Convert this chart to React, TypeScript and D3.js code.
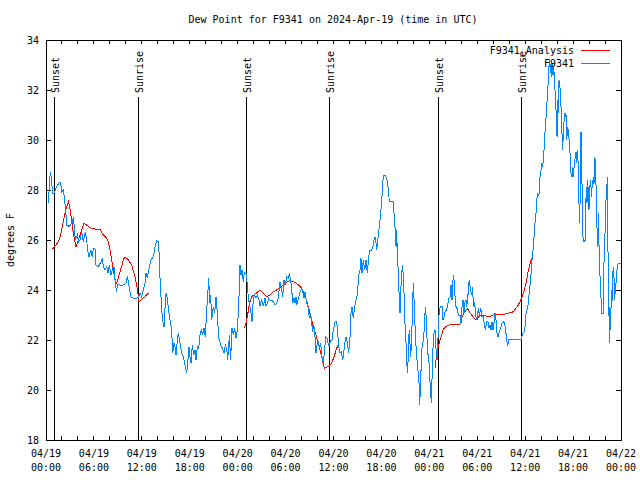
import React from "react";
import * as d3 from "d3";

const START = Date.UTC(2024, 3, 19, 0, 0, 0);
const END = Date.UTC(2024, 3, 22, 0, 0, 0);

const TITLE = "Dew Point for F9341 on 2024-Apr-19 (time in UTC)";
const Y_LABEL = "degrees F";
const SERIES_NAMES = ["F9341_Analysis", "F9341"];
const Y_TICKS = [18, 20, 22, 24, 26, 28, 30, 32, 34];

const EVENT_HOURS = [1.03, 11.57, 25.05, 35.48, 49.12, 59.52];
const EVENT_LABELS = ["Sunset", "Sunrise", "Sunset", "Sunrise", "Sunset", "Sunrise"];

// Observed dew point (hours since 2024-04-19 00:00 UTC)
const OBS_HOURS = [
  0.29, 0.54, 0.67, 0.83, 1.0, 1.17, 1.33, 1.63, 1.84, 1.96, 2.17, 2.3, 2.46, 2.59, 2.75, 2.88, 3.09, 3.3, 3.42, 3.55,
  3.67, 3.92, 4.09, 4.26, 4.47, 4.67, 4.92, 5.09, 5.22, 5.38, 5.59, 5.8, 5.93, 6.13, 6.26, 6.55, 6.89, 7.05, 7.18, 7.39,
  7.6, 7.76, 7.93, 8.14, 8.35, 8.51, 8.68, 8.85, 8.93, 9.27, 9.68, 10.02, 10.19, 10.35, 10.6, 10.94, 11.35, 11.56, 11.77, 11.98,
  12.19, 12.4, 12.52, 12.69, 12.94, 13.15, 13.44, 13.65, 13.86, 14.07, 14.19, 14.27, 14.48, 14.61, 14.78, 14.9, 15.03, 15.19, 15.32, 15.53,
  15.74, 15.86, 16.03, 16.15, 16.28, 16.45, 16.57, 16.78, 16.99, 17.2, 17.41, 17.62, 17.74, 17.91, 18.03, 18.16, 18.32, 18.49, 18.66, 18.78,
  18.95, 19.12, 19.28, 19.45, 19.62, 19.78, 19.95, 20.12, 20.29, 20.37, 20.5, 20.62, 20.74, 20.95, 21.12, 21.29, 21.46, 21.62, 21.79, 21.95,
  22.12, 22.29, 22.46, 22.62, 22.75, 22.87, 22.96, 23.12, 23.29, 23.46, 23.62, 23.79, 23.96, 24.12, 24.21, 24.29, 24.42, 24.54, 24.71, 24.83,
  25.04, 25.17, 25.25, 25.38, 25.54, 25.67, 25.79, 25.88, 26.0, 26.13, 26.29, 26.46, 26.63, 26.79, 27.0, 27.22, 27.42, 27.55, 27.72, 27.88,
  28.05, 28.26, 28.47, 28.68, 28.88, 29.09, 29.3, 29.51, 29.64, 29.8, 29.97, 30.14, 30.34, 30.47, 30.64, 30.76, 30.89, 31.06, 31.18, 31.31,
  31.39, 31.6, 31.81, 32.02, 32.14, 32.31, 32.43, 32.64, 32.81, 32.98, 33.14, 33.27, 33.39, 33.56, 33.68, 33.81, 33.98, 34.14, 34.23, 34.39,
  34.56, 34.73, 34.89, 35.02, 35.19, 35.35, 35.48, 35.65, 35.81, 35.98, 36.19, 36.4, 36.52, 36.65, 36.82, 36.98, 37.15, 37.32, 37.44, 37.57,
  37.73, 37.9, 38.07, 38.19, 38.32, 38.48, 38.65, 38.82, 38.99, 39.15, 39.32, 39.44, 39.57, 39.74, 39.91, 40.07, 40.24, 40.41, 40.57, 40.74,
  40.91, 41.07, 41.24, 41.41, 41.57, 41.74, 41.91, 42.03, 42.16, 42.24, 42.49, 42.66, 42.83, 43.0, 43.24, 43.49, 43.58, 43.7, 43.83, 43.91,
  43.99, 44.12, 44.24, 44.33, 44.45, 44.54, 44.66, 44.87, 44.95, 45.08, 45.17, 45.29, 45.41, 45.49, 45.66, 45.79, 45.91, 46.0, 46.12, 46.25,
  46.41, 46.54, 46.71, 46.79, 46.92, 47.04, 47.17, 47.29, 47.42, 47.54, 47.67, 47.79, 47.92, 48.05, 48.17, 48.25, 48.38, 48.5, 48.63, 48.75,
  48.84, 49.0, 49.13, 49.25, 49.42, 49.59, 49.71, 49.84, 49.96, 50.13, 50.26, 50.42, 50.59, 50.71, 50.84, 50.92, 51.05, 51.17, 51.3, 51.42,
  51.55, 51.67, 51.84, 51.96, 52.09, 52.22, 52.34, 52.46, 52.59, 52.67, 52.8, 52.93, 53.01, 53.18, 53.3, 53.43, 53.51, 53.64, 53.76, 53.89,
  54.01, 54.14, 54.26, 54.43, 54.6, 54.76, 54.89, 55.01, 55.18, 55.35, 55.47, 55.6, 55.72, 55.85, 55.97, 56.1, 56.22, 56.35, 56.51, 56.64,
  56.76, 56.93, 57.1, 57.26, 57.43, 57.56, 57.68, 57.81, 57.93, 58.52, 59.52, 59.69, 59.86, 59.98, 60.11, 60.28, 60.4, 60.53, 60.69, 60.81,
  60.94, 61.02, 61.11, 61.23, 61.36, 61.44, 61.52, 61.65, 61.77, 61.86, 61.98, 62.07, 62.19, 62.28, 62.36, 62.44, 62.57, 62.69, 62.82, 62.9,
  62.98, 63.07, 63.15, 63.24, 63.32, 63.41, 63.49, 63.57, 63.7, 63.82, 63.91, 63.99, 64.07, 64.16, 64.24, 64.32, 64.41, 64.49, 64.61, 64.69,
  64.82, 64.94, 65.03, 65.11, 65.2, 65.32, 65.45, 65.57, 65.66, 65.74, 65.87, 65.95, 66.03, 66.16, 66.28, 66.37, 66.45, 66.53, 66.66, 66.74,
  66.83, 66.91, 66.99, 67.08, 67.16, 67.24, 67.33, 67.49, 67.58, 67.66, 67.74, 67.83, 67.91, 67.99, 68.08, 68.16, 68.24, 68.33, 68.41, 68.49,
  68.58, 68.66, 68.74, 68.83, 68.91, 68.99, 69.08, 69.16, 69.24, 69.33, 69.41, 69.49, 69.58, 69.79, 69.87, 69.95, 70.04, 70.12, 70.2, 70.29,
  70.37, 70.45, 70.54, 70.62, 70.7, 70.79, 70.87, 70.95, 71.04, 71.12, 71.2, 71.29, 71.37, 71.45, 71.54, 71.66, 71.79, 71.95,
];
const OBS_VALUES = [
  27.47, 28.73, 28.47, 27.87, 27.87, 28.0, 28.13, 28.29, 28.29, 27.93, 28.0, 27.67, 27.2, 26.6, 26.6, 26.53, 26.6, 26.73, 26.9, 26.53,
  26.0, 26.2, 25.93, 26.0, 26.33, 25.93, 26.33, 26.0, 25.6, 25.33, 25.6, 25.33, 25.67, 25.67, 25.0, 24.93, 25.13, 25.27, 24.93, 24.8,
  24.93, 24.67, 25.0, 24.6, 24.87, 24.93, 24.27, 23.93, 24.24, 24.2, 24.2, 24.27, 24.56, 24.27, 23.73, 23.67, 23.67, 23.71, 23.87, 23.73,
  24.0, 24.27, 24.67, 24.47, 24.93, 25.2, 25.33, 25.73, 25.96, 25.93, 25.33, 24.53, 23.27, 22.8, 22.53, 23.27, 23.87, 23.67, 23.27, 22.8,
  22.4, 21.47, 21.87, 21.73, 21.4, 22.0, 22.27, 21.87, 21.47, 21.33, 21.0, 20.67, 21.07, 21.73, 21.33, 21.07, 21.8, 21.4, 21.6, 21.2,
  21.73, 21.67, 22.2, 22.4, 22.2, 22.47, 22.13, 23.2, 24.0, 24.47, 23.47, 23.8, 22.8, 23.33, 23.07, 23.73, 23.07, 22.07, 21.93, 21.73,
  21.67, 21.47, 21.8, 21.67, 21.2, 21.73, 22.2, 21.2, 22.47, 22.2, 22.47, 22.07, 22.4, 23.33, 24.13, 25.0, 24.6, 24.8, 24.33, 24.69,
  24.67, 24.33, 24.0, 23.6, 23.33, 23.07, 22.73, 23.33, 23.67, 23.8, 23.67, 23.8, 23.67, 23.36, 23.6, 23.36, 23.67, 23.36, 23.47, 23.67,
  23.6, 23.6, 23.53, 23.4, 23.47, 23.67, 24.33, 24.0, 23.73, 24.4, 24.2, 24.53, 24.47, 24.67, 24.4, 24.07, 23.47, 23.67, 23.47, 23.73,
  23.4, 23.67, 23.93, 24.07, 23.93, 23.67, 23.93, 23.47, 23.33, 22.87, 23.07, 22.67, 22.4, 22.53, 22.13, 21.47, 21.93, 21.93, 21.67, 21.87,
  21.33, 21.07, 21.6, 22.13, 22.07, 21.8, 21.8, 22.0, 22.0, 22.4, 22.73, 22.73, 22.33, 21.73, 21.47, 21.53, 21.2, 21.6, 21.93, 22.13,
  21.93, 21.47, 22.13, 23.07, 23.33, 22.87, 23.33, 23.6, 23.8, 24.6, 24.8, 25.27, 24.67, 25.2, 24.8, 25.2, 24.67, 25.33, 25.6, 25.6,
  25.67, 26.0, 26.13, 25.6, 26.07, 26.53, 27.07, 27.53, 28.2, 28.6, 28.6, 28.47, 28.13, 27.53, 27.53, 27.53, 27.07, 26.53, 25.73, 26.4,
  25.47, 24.67, 23.6, 23.07, 24.13, 24.67, 25.0, 23.6, 22.67, 21.87, 21.07, 20.67, 22.0, 22.4, 21.33, 22.0, 23.6, 24.27, 23.33, 22.27,
  21.33, 20.93, 20.27, 19.4, 20.4, 21.6, 21.87, 22.0, 22.93, 23.33, 22.4, 21.47, 21.33, 20.53, 19.87, 19.47, 20.93, 22.0, 22.4, 22.4,
  21.6, 21.2, 22.53, 23.2, 23.33, 23.33, 22.8, 22.93, 23.13, 23.2, 23.33, 23.67, 23.73, 24.2, 23.6, 24.27, 24.6, 24.0, 23.33, 23.33,
  23.13, 23.0, 23.0, 22.67, 23.33, 23.6, 23.07, 23.53, 23.6, 23.33, 23.6, 24.27, 24.33, 24.0, 23.8, 24.13, 23.33, 23.53, 23.2, 22.8,
  22.93, 23.27, 23.0, 23.27, 22.93, 22.93, 22.6, 22.4, 22.73, 22.73, 22.47, 22.6, 22.4, 22.73, 22.4, 22.67, 23.07, 22.8, 22.13, 22.13,
  22.33, 22.47, 22.67, 22.73, 22.67, 22.4, 22.0, 21.76, 22.03, 22.03, 22.03, 22.27, 22.33, 22.53, 23.07, 23.27, 23.47, 24.0, 24.4, 25.07,
  25.47, 25.73, 26.13, 26.67, 27.07, 27.47, 27.87, 27.8, 27.87, 28.53, 28.8, 29.07, 28.93, 29.2, 29.6, 30.13, 30.67, 31.33, 31.87, 32.53,
  32.93, 33.2, 32.67, 33.07, 32.53, 33.07, 32.6, 32.93, 32.27, 31.47, 30.93, 30.13, 31.6, 31.07, 32.4, 32.27, 31.87, 31.33, 30.27, 29.6,
  30.53, 31.07, 30.93, 31.07, 30.0, 30.53, 30.27, 29.6, 29.33, 28.67, 28.53, 28.93, 28.53, 29.07, 29.33, 29.53, 29.07, 29.6, 28.93, 27.47,
  26.67, 28.27, 30.33, 29.33, 27.07, 26.13, 25.93, 25.93, 27.2, 28.13, 27.47, 28.4, 27.87, 27.2, 28.0, 28.4, 28.13, 27.73, 28.4, 28.2,
  28.53, 28.27, 29.33, 28.27, 28.13, 26.53, 25.73, 27.07, 25.87, 24.93, 24.27, 23.73, 23.07, 23.07, 25.07, 25.87, 26.67, 27.6, 27.87, 28.53,
  25.6, 24.27, 21.87, 23.33, 22.4, 24.0, 23.47, 24.53, 24.93, 24.53, 23.6, 24.0, 24.27, 24.53, 25.0, 25.07, 25.07, 25.07,
];

// Analysis (null marks a gap between nightly runs)
const ANA_HOURS = [
  0.79, 1.13, 1.54, 1.84, 2.09, 2.38, 2.59, 2.8, 3.0, 3.21, 3.42, 3.63, 3.76, 3.97, 4.26, 4.55, 4.76, 5.09, 5.51, 6.13,
  6.76, 7.18, 7.6, 7.81, 8.01, 8.22, 8.43, 8.64, 8.85, 9.27, 9.68, 9.89, 10.31, 10.73, 11.14, 11.43, 11.64, 11.98, 12.4, 12.81,
  18.0,
  24.83, 25.04, 25.21, 25.38, 25.54, 25.75, 26.04, 26.38, 26.79, 27.22, 27.63, 28.05, 28.47, 28.88, 29.3, 29.7, 30.1, 30.5, 30.76, 31.18,
  31.6, 32.02, 32.43, 32.85, 33.26, 33.68, 34.1, 34.52, 34.85, 35.14, 35.48, 35.77, 36.06, 36.4, 36.65,
  42.0,
  48.71, 48.92, 49.13, 49.34, 49.55, 49.75, 49.96, 50.38, 50.8, 51.42, 51.84, 52.05, 52.26, 52.51, 52.76, 53.01, 53.3, 53.6, 53.93, 54.26,
  54.55, 54.97, 55.39, 55.8, 56.22, 56.85, 57.47, 58.1, 58.52, 58.85, 59.14, 59.35, 59.56, 59.77, 59.98, 60.19, 60.36, 60.52, 60.65, 60.81,
];
const ANA_VALUES = [
  25.63, 25.76, 25.93, 26.2, 26.6, 27.07, 27.33, 27.53, 27.27, 26.8, 26.27, 25.93, 25.71, 25.93, 26.2, 26.47, 26.67, 26.6, 26.49, 26.44,
  26.43, 26.2, 26.07, 25.93, 25.6, 25.2, 24.8, 24.4, 24.27, 24.73, 25.2, 25.33, 25.2, 25.0, 24.53, 24.07, 23.53, 23.63, 23.73, 23.87,
  null,
  22.47, 22.67, 22.93, 23.27, 23.53, 23.73, 23.8, 23.89, 24.0, 23.87, 23.73, 23.8, 23.93, 24.0, 24.1, 24.2, 24.3, 24.38, 24.35, 24.3,
  24.2, 24.07, 23.8, 23.33, 22.8, 22.33, 21.87, 21.33, 20.87, 20.91, 20.96, 21.07, 21.33, 21.67, 21.87,
  null,
  20.87, 21.4, 21.73, 22.0, 22.2, 22.43, 22.51, 22.59, 22.63, 22.63, 22.64, 22.87, 23.04, 23.16, 23.27, 23.13, 23.0, 22.87, 22.8, 22.96,
  23.0, 22.97, 22.93, 22.97, 23.04, 23.04, 23.04, 23.09, 23.13, 23.27, 23.4, 23.53, 23.67, 23.87, 24.13, 24.4, 24.73, 24.93, 25.1, 25.27,
];

const COLORS = ["#ff0000", "#0088ff"];
const FONT = "'DejaVu Sans Mono', 'Liberation Mono', monospace";

const W = 640;
const H = 480;
const M = { left: 46, right: 19, top: 40, bottom: 40 };

const toDate = (h: number) => new Date(START + h * 3600000);

export default function App() {
  const x = d3.scaleUtc().domain([new Date(START), new Date(END)]).range([M.left, W - M.right]);
  const y = d3.scaleLinear().domain([18, 34]).range([H - M.bottom, M.top]);

  const obs = OBS_HOURS.map((h, i) => ({ t: toDate(h), v: OBS_VALUES[i] as number | null }));
  const ana = ANA_HOURS.map((h, i) => ({ t: toDate(h), v: ANA_VALUES[i] as number | null }));

  const line = d3
    .line<{ t: Date; v: number | null }>()
    .defined((d) => d.v !== null)
    .x((d) => x(d.t))
    .y((d) => y(d.v as number));

  const minorTicks = x.ticks(d3.utcHour.every(2) as any);
  const majorTicks = x.ticks(d3.utcHour.every(6) as any);
  const fmtDate = d3.utcFormat("%m/%d");
  const fmtTime = d3.utcFormat("%H:%M");

  const x0 = M.left;
  const x1 = W - M.right;
  const y0 = H - M.bottom;
  const y1 = M.top;

  return (
    <svg width={W} height={H} style={{ position: "absolute", left: 0, top: 0, background: "#fff" }} fontFamily={FONT} fontSize={10}>
      <rect x={0} y={0} width={W} height={H} fill="#fff" />
      <text x={333} y={23} textAnchor="middle" fill="#000">{TITLE}</text>

      {/* y ticks */}
      {Y_TICKS.map((v) => (
        <g key={"y" + v}>
          <line x1={x0} x2={x0 + 5} y1={y(v)} y2={y(v)} stroke="#000" shapeRendering="crispEdges" />
          <line x1={x1} x2={x1 - 5} y1={y(v)} y2={y(v)} stroke="#000" shapeRendering="crispEdges" />
          <text x={39} y={y(v)} dy="0.35em" textAnchor="end" fill="#000">{v}</text>
        </g>
      ))}

      {/* x ticks */}
      {minorTicks.map((t, i) => (
        <g key={"xm" + i}>
          <line x1={x(t)} x2={x(t)} y1={y0} y2={y0 - 4} stroke="#000" shapeRendering="crispEdges" />
          <line x1={x(t)} x2={x(t)} y1={y1} y2={y1 + 4} stroke="#000" shapeRendering="crispEdges" />
        </g>
      ))}
      {majorTicks.map((t, i) => (
        <g key={"xl" + i}>
          <text x={x(t)} y={457} textAnchor="middle" fill="#000">{fmtDate(t)}</text>
          <text x={x(t)} y={471} textAnchor="middle" fill="#000">{fmtTime(t)}</text>
        </g>
      ))}

      <text transform={`translate(14,${(y0 + y1) / 2}) rotate(-90)`} textAnchor="middle" fill="#000">{Y_LABEL}</text>

      {/* sunrise / sunset */}
      {EVENT_HOURS.map((h, i) => (
        <g key={"e" + i}>
          <line x1={x(toDate(h))} x2={x(toDate(h))} y1={97} y2={y0} stroke="#000" shapeRendering="crispEdges" />
          <text transform={`translate(${x(toDate(h)) + 5},93) rotate(-90)`} textAnchor="start" fill="#000">{EVENT_LABELS[i]}</text>
        </g>
      ))}

      <path d={line(ana) || ""} fill="none" stroke={COLORS[0]} strokeWidth={1} shapeRendering="crispEdges" />
      <path d={line(obs) || ""} fill="none" stroke={COLORS[1]} strokeWidth={1} shapeRendering="crispEdges" />

      {/* legend */}
      <text x={574} y={50} dy="0.35em" textAnchor="end" fill="#000">{SERIES_NAMES[0]}</text>
      <line x1={581} x2={610} y1={50} y2={50} stroke={COLORS[0]} shapeRendering="crispEdges" />
      <text x={574} y={63} dy="0.35em" textAnchor="end" fill="#000">{SERIES_NAMES[1]}</text>
      <line x1={581} x2={610} y1={63} y2={63} stroke={COLORS[1]} shapeRendering="crispEdges" />

      <rect x={x0} y={y1} width={x1 - x0} height={y0 - y1} fill="none" stroke="#000" shapeRendering="crispEdges" />
    </svg>
  );
}
